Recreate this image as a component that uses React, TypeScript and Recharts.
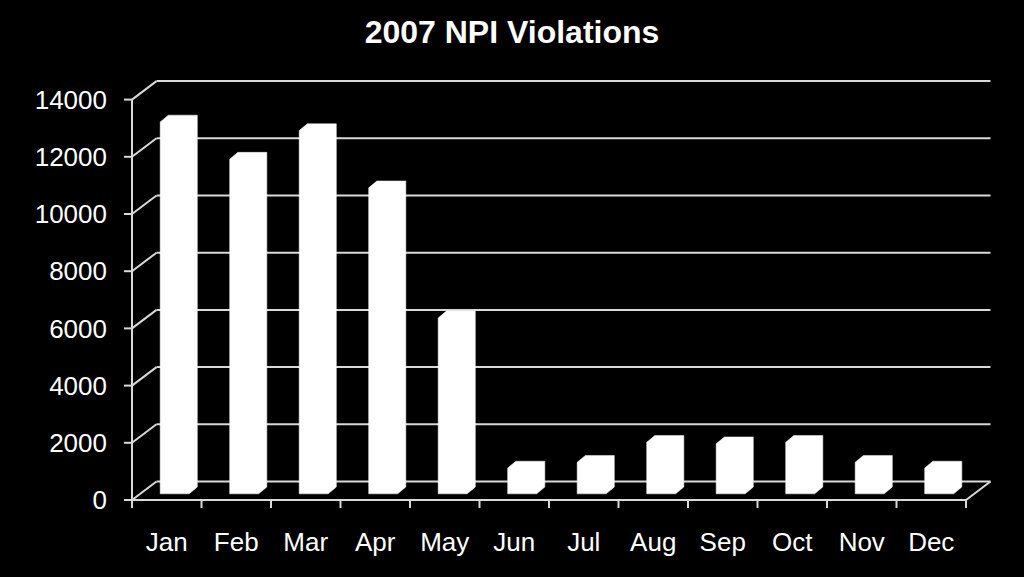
import React from 'react';
import { BarChart, Bar, XAxis, YAxis, CartesianGrid } from 'recharts';

const title = '2007 NPI Violations';
const months = ['Jan', 'Feb', 'Mar', 'Apr', 'May', 'Jun', 'Jul', 'Aug', 'Sep', 'Oct', 'Nov', 'Dec'];
const violations = [13000, 11700, 12700, 10700, 6150, 900, 1100, 1800, 1750, 1800, 1100, 900];
const yTicks = [0, 2000, 4000, 6000, 8000, 10000, 12000, 14000];

const data = months.map((m, i) => ({ month: m, value: violations[i] }));

const W = 1024;
const H = 577;
const PLOT_LEFT = 132;
const PLOT_RIGHT = 966;
const PLOT_TOP = 99.6;
const PLOT_BOTTOM = 500;
const PLOT_W = PLOT_RIGHT - PLOT_LEFT;
const DX = 24.5;
const DY = 18.5;
const LINE = '#d9d9d9';
const FONT = '"Liberation Sans", Arial, Helvetica, sans-serif';

const GridLine = (props: any) => {
  const { x1, y1, x2, y2 } = props;
  const isFloor = y1 > PLOT_BOTTOM - 5;
  return (
    <g>
      <line x1={x1 + DX} y1={y1 - DY} x2={x2 + DX} y2={y2 - DY} stroke={LINE} strokeWidth={2} />
      <line x1={x1} y1={y1} x2={x1 + DX} y2={y1 - DY} stroke={LINE} strokeWidth={2} />
      {isFloor && <line x1={x2} y1={y2} x2={x2 + DX} y2={y2 - DY} stroke={LINE} strokeWidth={2} />}
    </g>
  );
};

const Bar3D = (props: any) => {
  const { x, y, width, height } = props;
  if (x == null || y == null || height == null) return null;
  const fx = x + DX / 3;
  const top = y - DY / 3;
  const bottom = y + height - DY / 3;
  const d = DX / 3;
  const e = DY / 2.7;
  const pts = [
    [fx, bottom],
    [fx, top],
    [fx + d, top - e],
    [fx + width + d, top - e],
    [fx + width + d, bottom - e],
    [fx + width, bottom],
  ]
    .map((p) => p.join(','))
    .join(' ');
  return <polygon points={pts} fill="#ffffff" stroke="#f4f4f4" strokeWidth={0.5} />;
};

const MonthTick = (props: any) => {
  const { x, y, payload, index } = props;
  const band = PLOT_W / months.length;
  return (
    <g>
      <line x1={x - band / 2} y1={y} x2={x - band / 2} y2={y + 8} stroke={LINE} strokeWidth={2} />
      {index === months.length - 1 && (
        <line x1={x + band / 2} y1={y} x2={x + band / 2} y2={y + 8} stroke={LINE} strokeWidth={2} />
      )}
      <text x={x} y={y + 51} textAnchor="middle" fill="#ffffff" fontSize={26} fontFamily={FONT}>
        {payload.value}
      </text>
    </g>
  );
};

export default function App() {
  return (
    <div style={{ position: 'absolute', left: 0, top: 0, width: W, height: H, background: '#000', overflow: 'hidden' }}>
      <div
        style={{
          position: 'absolute',
          left: 0,
          top: 16,
          width: W,
          textAlign: 'center',
          color: '#fff',
          fontFamily: FONT,
          fontWeight: 'bold',
          fontSize: 32,
          lineHeight: '32px',
        }}
      >
        {title}
      </div>
      <div style={{ position: 'absolute', left: 0, top: 0 }}>
        <BarChart
          width={W}
          height={H}
          data={data}
          margin={{ top: PLOT_TOP, right: W - PLOT_RIGHT, bottom: 0, left: 0 }}
          barSize={29}
        >
          <CartesianGrid vertical={false} horizontal={GridLine as any} />
          <XAxis
            dataKey="month"
            height={H - PLOT_BOTTOM}
            interval={0}
            tickSize={0}
            tickMargin={0}
            tickLine={false}
            axisLine={{ stroke: LINE, strokeWidth: 2 }}
            tick={MonthTick as any}
          />
          <YAxis
            width={PLOT_LEFT}
            domain={[0, 14000]}
            ticks={yTicks}
            interval={0}
            tickSize={8}
            tickMargin={17}
            axisLine={{ stroke: LINE, strokeWidth: 2 }}
            tickLine={{ stroke: LINE, strokeWidth: 2 }}
            tick={{ fill: '#ffffff', fontSize: 26, fontFamily: FONT }}
          />
          <Bar dataKey="value" shape={Bar3D as any} isAnimationActive={false} />
        </BarChart>
      </div>
    </div>
  );
}
